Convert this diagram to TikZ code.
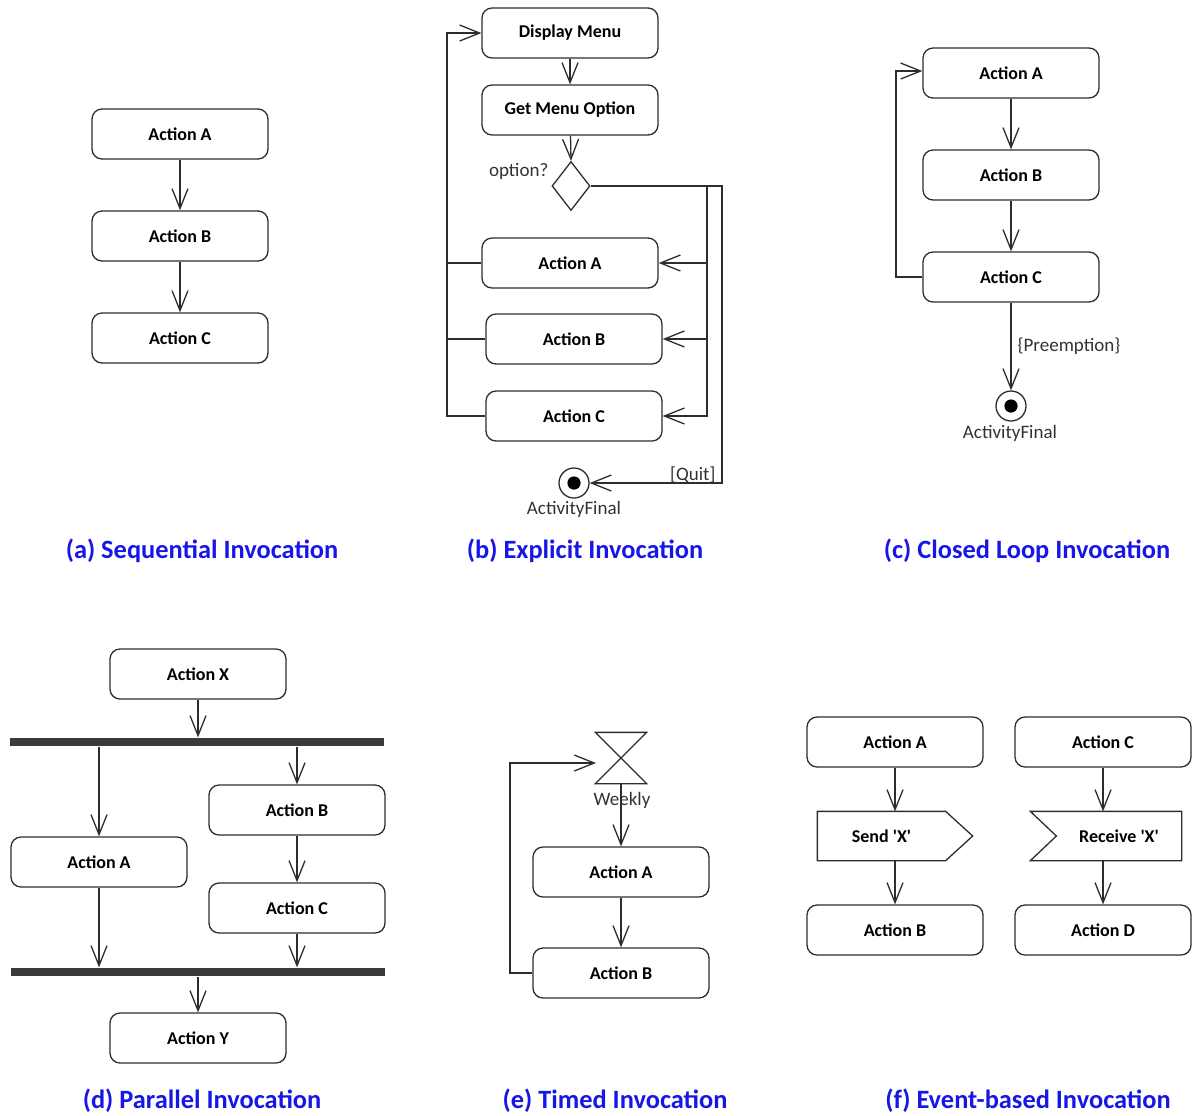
\documentclass[tikz,border=0pt]{standalone}
\usepackage{fontspec}
\setmainfont{Carlito}
\usetikzlibrary{arrows.meta,shapes.geometric,calc}
\definecolor{titleblue}{RGB}{22,22,230}
\definecolor{linegray}{RGB}{45,45,45}
\definecolor{bargray}{RGB}{58,58,58}
\definecolor{labelgray}{RGB}{50,50,50}
\newcommand{\sq}{\textquotesingle}
\begin{document}
\begin{tikzpicture}[x=0.5pt,y=-0.5pt, line width=0.65pt, color=linegray,
  act/.style={draw=linegray, rounded corners=5pt, minimum width=88pt, minimum height=25pt,
    inner sep=0pt, text=black, font=\fontsize{9}{11}\selectfont\bfseries},
  plainbox/.style={draw=none, minimum height=24pt, inner sep=0pt, text=black,
    font=\fontsize{9}{11}\selectfont\bfseries},
  flow/.style={-{Straight Barb[length=10pt,width=8pt]}},
  lbl/.style={font=\fontsize{9.5}{11}\selectfont, text=labelgray, inner sep=1pt},
  ttl/.style={font=\fontsize{13.2}{15}\selectfont\bfseries, text=titleblue},
  decision/.style={diamond, draw=linegray, minimum width=19pt, minimum height=24.5pt, inner sep=0pt},
  final/.style={circle, draw=linegray, minimum size=15pt, inner sep=0pt,
    path picture={\fill[black] (path picture bounding box.center) circle (3.3pt);}},
  bar/.style={fill=bargray, draw=none, minimum width=187pt, minimum height=4pt, inner sep=0pt}
]
\useasboundingbox (0,0) rectangle (1192,1115);

% ---------- (a) sequential ----------
\node[act] (a1) at (180,134) {Action A};
\node[act] (a2) at (180,236) {Action B};
\node[act] (a3) at (180,338) {Action C};
\draw[flow] (a1) -- (a2);
\draw[flow] (a2) -- (a3);
\node[ttl] (ta) at (202,551) {(a) Sequential Invocation};

% ---------- (b) explicit ----------
\node[act] (bD) at (570,33) {Display Menu};
\node[act] (bG) at (570,110) {Get Menu Option};
\node[decision] (bQ) at (571,186) {};
\node[lbl, anchor=east] (bQl) at (551,171) {option?};
\node[act] (bA) at (570,263) {Action A};
\node[act] (bB) at (574,339) {Action B};
\node[act] (bC) at (574,416) {Action C};
\node[final] (bF) at (574,483) {};
\node[lbl] (bFl) at (574,509) {ActivityFinal};
\coordinate (bv) at (707,186);
\coordinate (bq1) at (722,186);
\coordinate (bq2) at (722,483);
\coordinate (bl) at (447,33);
\draw[flow] (bD) -- (bG);
\draw[flow] (bG) -- (bQ.north);
\draw[flow] (bQ.east) -- (bq1) -- (bq2) -- (bF);
\node[lbl, anchor=east] (bQuit) at (718,475) {[Quit]};
\draw[flow] (bv) |- (bA);
\draw[flow] (bv) |- (bB);
\draw[flow] (bv) |- (bC);
\draw[flow] (bC.west) -| (bl) -- (bD.west);
\draw (bA.west) -- (bA.west -| bl);
\draw (bB.west) -- (bB.west -| bl);
\node[ttl] (tb) at (585,551) {(b) Explicit Invocation};

% ---------- (c) closed loop ----------
\node[act] (cA) at (1011,73) {Action A};
\node[act] (cB) at (1011,175) {Action B};
\node[act] (cC) at (1011,277) {Action C};
\node[final] (cF) at (1011,406) {};
\node[lbl] (cFl) at (1010,433) {ActivityFinal};
\coordinate (cl) at (896,71);
\draw[flow] (cA) -- (cB);
\draw[flow] (cB) -- (cC);
\draw[flow] (cC.west) -| (cl) -- (cA.west |- cl);
\draw[flow] (cC) -- node[lbl, right=2pt] (cPre) {\{Preemption\}} (cF);
\node[ttl] (tc) at (1027,551) {(c) Closed Loop Invocation};

% ---------- (d) parallel ----------
\node[act] (dX) at (198,674) {Action X};
\node[bar] (dF1) at (197,742) {};
\node[act] (dA) at (99,862) {Action A};
\node[act] (dB) at (297,810) {Action B};
\node[act] (dC) at (297,908) {Action C};
\node[bar] (dF2) at (198,972) {};
\node[act] (dY) at (198,1038) {Action Y};
\draw[flow] (dX) -- (dX |- dF1.north);
\draw[flow] (dF1.south -| dA) -- (dA);
\draw[flow] (dF1.south -| dB) -- (dB);
\draw[flow] (dB) -- (dC);
\draw[flow] (dA) -- (dA |- dF2.north);
\draw[flow] (dC) -- (dC |- dF2.north);
\draw[flow] (dY |- dF2.south) -- (dY);
\node[ttl] (td) at (202,1101) {(d) Parallel Invocation};

% ---------- (e) timed ----------
\node[draw=none, minimum width=25pt, minimum height=25pt, inner sep=0pt] (eT) at (621,758) {};
\draw (eT.north west) -- (eT.north east) -- (eT.south west) -- (eT.south east) -- cycle;
\node[lbl] (eW) at (622,800) {Weekly};
\node[act] (eA) at (621,872) {Action A};
\node[act] (eB) at (621,973) {Action B};
\coordinate (el) at (510,763);
\coordinate (ein) at (596,763);
\draw[flow] (eT.south) -- (eA);
\draw[flow] (eA) -- (eB);
\draw[flow] (eB.west) -| (el) -- (ein);
\node[ttl] (te) at (615,1101) {(e) Timed Invocation};

% ---------- (f) event based ----------
\node[act] (fA) at (895,742) {Action A};
\node[plainbox, minimum width=63.5pt] (fS) at (881.5,836) {Send \sq X\sq};
\draw (fS.north west) -- (fS.north east) -- ($(fS.east)+(27,0)$) -- (fS.south east) -- (fS.south west) -- cycle;
\node[act] (fB) at (895,930) {Action B};
\draw[flow] (fA) -- (fA |- fS.north);
\draw[flow] (fA |- fS.south) -- (fB);

\node[act] (fC) at (1103,742) {Action C};
\node[plainbox, minimum width=62pt] (fR) at (1119,836) {Receive \sq X\sq};
\draw ($(fR.north west)+(-26,0)$) -- (fR.north east) -- (fR.south east) -- ($(fR.south west)+(-26,0)$) -- (fR.west) -- cycle;
\node[act] (fD) at (1103,930) {Action D};
\draw[flow] (fC) -- (fC |- fR.north);
\draw[flow] (fC |- fR.south) -- (fD);
\node[ttl] (tf) at (1028,1101) {(f) Event-based Invocation};
\end{tikzpicture}
\end{document}
